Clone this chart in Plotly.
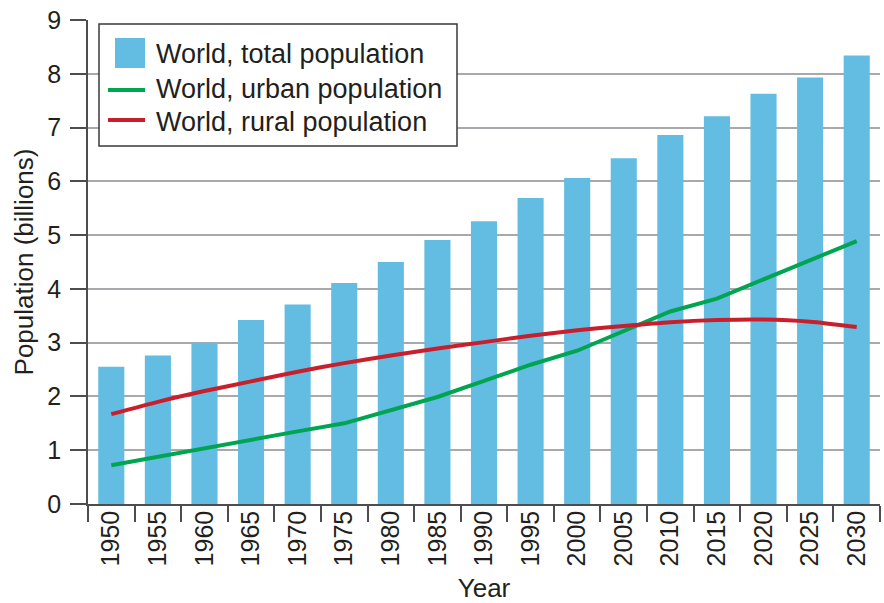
import plotly.graph_objects as go

# World population, billions
years = ["1950", "1955", "1960", "1965", "1970", "1975", "1980", "1985", "1990",
         "1995", "2000", "2005", "2010", "2015", "2020", "2025", "2030"]
total_pop = [2.55, 2.76, 3.00, 3.42, 3.71, 4.11, 4.50, 4.91, 5.26,
             5.69, 6.06, 6.43, 6.86, 7.21, 7.63, 7.93, 8.34]
urban_pop = [0.72, 0.88, 1.04, 1.20, 1.35, 1.50, 1.74, 1.99, 2.29,
             2.59, 2.85, 3.22, 3.58, 3.82, 4.18, 4.54, 4.89]
rural_pop = [1.67, 1.90, 2.10, 2.28, 2.46, 2.62, 2.76, 2.89, 3.01,
             3.13, 3.23, 3.31, 3.38, 3.42, 3.43, 3.39, 3.29]

series_names = ["World, total population", "World, urban population", "World, rural population"]

BLUE = "#63bce1"
GREEN = "#00a551"
RED = "#c91f2c"
AXIS = "#4d4d4d"
GRID = "#a8a9ac"
TEXT = "#231f20"

fig = go.Figure()
fig.add_trace(go.Bar(x=years, y=total_pop, name=series_names[0],
                     marker=dict(color=BLUE, line=dict(width=0))))
fig.add_trace(go.Scatter(x=years, y=urban_pop, name=series_names[1], mode="lines",
                         line=dict(color=GREEN, width=4)))
fig.add_trace(go.Scatter(x=years, y=rural_pop, name=series_names[2], mode="lines",
                         line=dict(color=RED, width=4, shape="spline", smoothing=0.6)))

fig.update_layout(
    width=884, height=603,
    margin=dict(l=88, r=4, t=20, b=99),
    plot_bgcolor="white", paper_bgcolor="white",
    showlegend=False,
    bargap=0.44,
    font=dict(family="Liberation Sans, Arial, sans-serif", size=25, color=TEXT),
)

fig.update_xaxes(
    type="category", range=[-0.5, 16.5],
    tickson="boundaries", ticks="outside", ticklen=16, tickwidth=1.5, tickcolor=AXIS,
    showline=True, linecolor=AXIS, linewidth=1.5,
    tickangle=-90, tickfont=dict(size=25), ticklabelstandoff=-5,
    showgrid=False,
    title=dict(text="Year", font=dict(size=26), standoff=15),
)
fig.update_yaxes(
    range=[0, 9], dtick=1, tick0=0,
    showgrid=True, gridcolor=GRID, gridwidth=2,
    ticks="outside", ticklen=16, tickwidth=1.5, tickcolor=AXIS,
    showline=True, linecolor=AXIS, linewidth=1.5, zeroline=False,
    tickfont=dict(size=25), ticklabelstandoff=4,
    title=dict(text="Population (billions)", font=dict(size=26), standoff=6),
)

# Legend box drawn in paper coordinates
def px_x(p):
    return (p - 88) / 792

def px_y(p):
    return 1 - (p - 20) / 484

fig.add_shape(type="rect", xref="paper", yref="paper",
              x0=px_x(99), x1=px_x(457), y0=px_y(146), y1=px_y(24),
              fillcolor="white", line=dict(color="#3a3a3a", width=1.5), layer="above")
fig.add_shape(type="rect", xref="paper", yref="paper",
              x0=px_x(115), x1=px_x(145), y0=px_y(68), y1=px_y(38),
              fillcolor=BLUE, line=dict(width=0), layer="above")
fig.add_shape(type="line", xref="paper", yref="paper",
              x0=px_x(108), x1=px_x(145), y0=px_y(90), y1=px_y(90),
              line=dict(color=GREEN, width=4), layer="above")
fig.add_shape(type="line", xref="paper", yref="paper",
              x0=px_x(108), x1=px_x(145), y0=px_y(120), y1=px_y(120),
              line=dict(color=RED, width=4), layer="above")
for name, ypix in zip(series_names, [54, 89, 122]):
    fig.add_annotation(text=name, xref="paper", yref="paper",
                       x=px_x(154), y=px_y(ypix), xanchor="left", yanchor="middle",
                       showarrow=False, font=dict(size=27, color=TEXT))

fig.write_html("out.html")
